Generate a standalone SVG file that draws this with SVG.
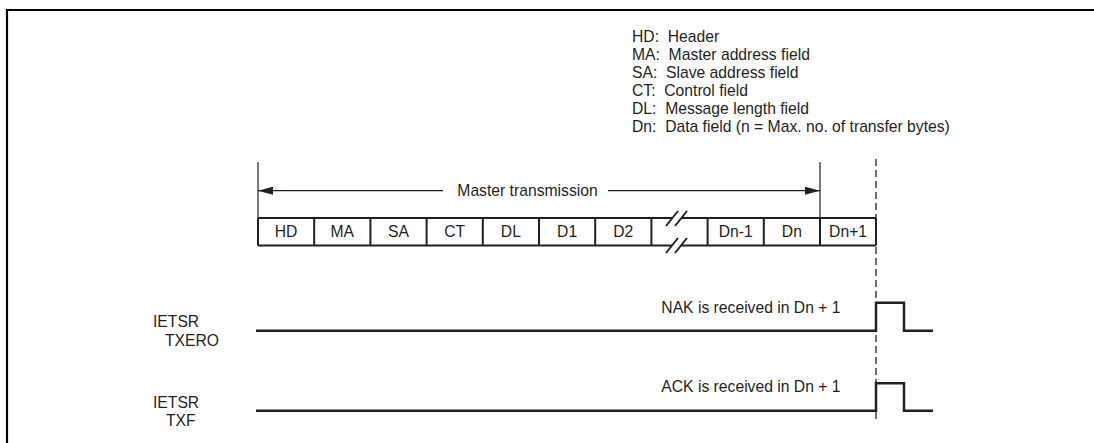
<svg xmlns="http://www.w3.org/2000/svg" width="1094" height="443" viewBox="0 0 1094 443">
<defs>
<style>
text{font-family:"Liberation Sans",Arial,sans-serif;font-size:15.7px;fill:#231f20;white-space:pre}
.c{text-anchor:middle}
.e{text-anchor:end}
.box{stroke:#231f20;stroke-width:2;fill:none}
.thin{stroke:#231f20;stroke-width:1.2;fill:none}
.sig{stroke:#231f20;stroke-width:2.5;fill:none;stroke-linejoin:miter}
.dash{stroke:#231f20;stroke-width:1.3;stroke-dasharray:7 4;fill:none}
</style>
<marker id="ah" viewBox="0 0 15 8" refX="15" refY="4" markerWidth="15" markerHeight="8" markerUnits="userSpaceOnUse" orient="auto">
<path d="M0,0 L15,4 L0,8 Z" fill="#231f20"/>
</marker>
</defs>
<rect width="1094" height="443" fill="#fff"/>
<path d="M7,443 V10 H1094" stroke="#000" stroke-width="2.2" fill="none"/>

<g id="legend">
<text x="632" y="41.5">HD:  Header</text>
<text x="632" y="59.7">MA:  Master address field</text>
<text x="632" y="77.9">SA:  Slave address field</text>
<text x="632" y="96">CT:  Control field</text>
<text x="632" y="114.2">DL:  Message length field</text>
<text x="632" y="132.4">Dn:  Data field (n = Max. no. of transfer bytes)</text>
</g>

<g id="frame">
<path class="box" d="M258,218 H672.4 M681.4,218 H876 M258,245.5 H672 M681,245.5 H876 M258,218 V245.5 M876,218 V245.5"/>
<path class="box" d="M314.2,218 V245.5 M370.4,218 V245.5 M426.6,218 V245.5 M482.8,218 V245.5 M539,218 V245.5 M595.2,218 V245.5 M651.4,218 V245.5 M707.6,218 V245.5 M763.8,218 V245.5 M820,218 V245.5"/>
</g>
<g id="cell-hd"><text class="c" x="286.1" y="237">HD</text></g>
<g id="cell-ma"><text class="c" x="342.3" y="237">MA</text></g>
<g id="cell-sa"><text class="c" x="398.5" y="237">SA</text></g>
<g id="cell-ct"><text class="c" x="454.7" y="237">CT</text></g>
<g id="cell-dl"><text class="c" x="510.9" y="237">DL</text></g>
<g id="cell-d1"><text class="c" x="567.1" y="237">D1</text></g>
<g id="cell-d2"><text class="c" x="623.3" y="237">D2</text></g>
<g id="cell-break">
<path class="box" d="M666,226 L678,211 M675,226 L687,211 M666,253 L678,238 M675,253 L687,238"/>
</g>
<g id="cell-dn-1"><text class="c" x="735.7" y="237">Dn-1</text></g>
<g id="cell-dn"><text class="c" x="791.9" y="237">Dn</text></g>
<g id="cell-dn+1"><text class="c" x="848.1" y="237">Dn+1</text></g>

<g id="master-transmission">
<text class="c" x="527.5" y="196">Master transmission</text>
</g>

<g id="connectors">
<path class="thin" d="M258,162 V218 M820,162 V218"/>
<path class="thin" d="M443,190.7 H258" marker-end="url(#ah)"/>
<path class="thin" d="M608,190.7 H820" marker-end="url(#ah)"/>
<path class="dash" d="M876,159 V420"/>
</g>

<g id="txero">
<text x="153" y="326.5">IETSR</text>
<text x="165" y="345.5">TXERO</text>
<path class="sig" d="M256,330.7 H876 V302.7 H904 V330.7 H933"/>
<text class="e" x="840.5" y="313">NAK is received in Dn + 1</text>
</g>

<g id="txf">
<text x="153" y="408">IETSR</text>
<text x="166" y="425.5">TXF</text>
<path class="sig" d="M256,410.7 H876 V383.3 H904 V410.7 H933"/>
<text class="e" x="840.5" y="392.3">ACK is received in Dn + 1</text>
</g>
</svg>
